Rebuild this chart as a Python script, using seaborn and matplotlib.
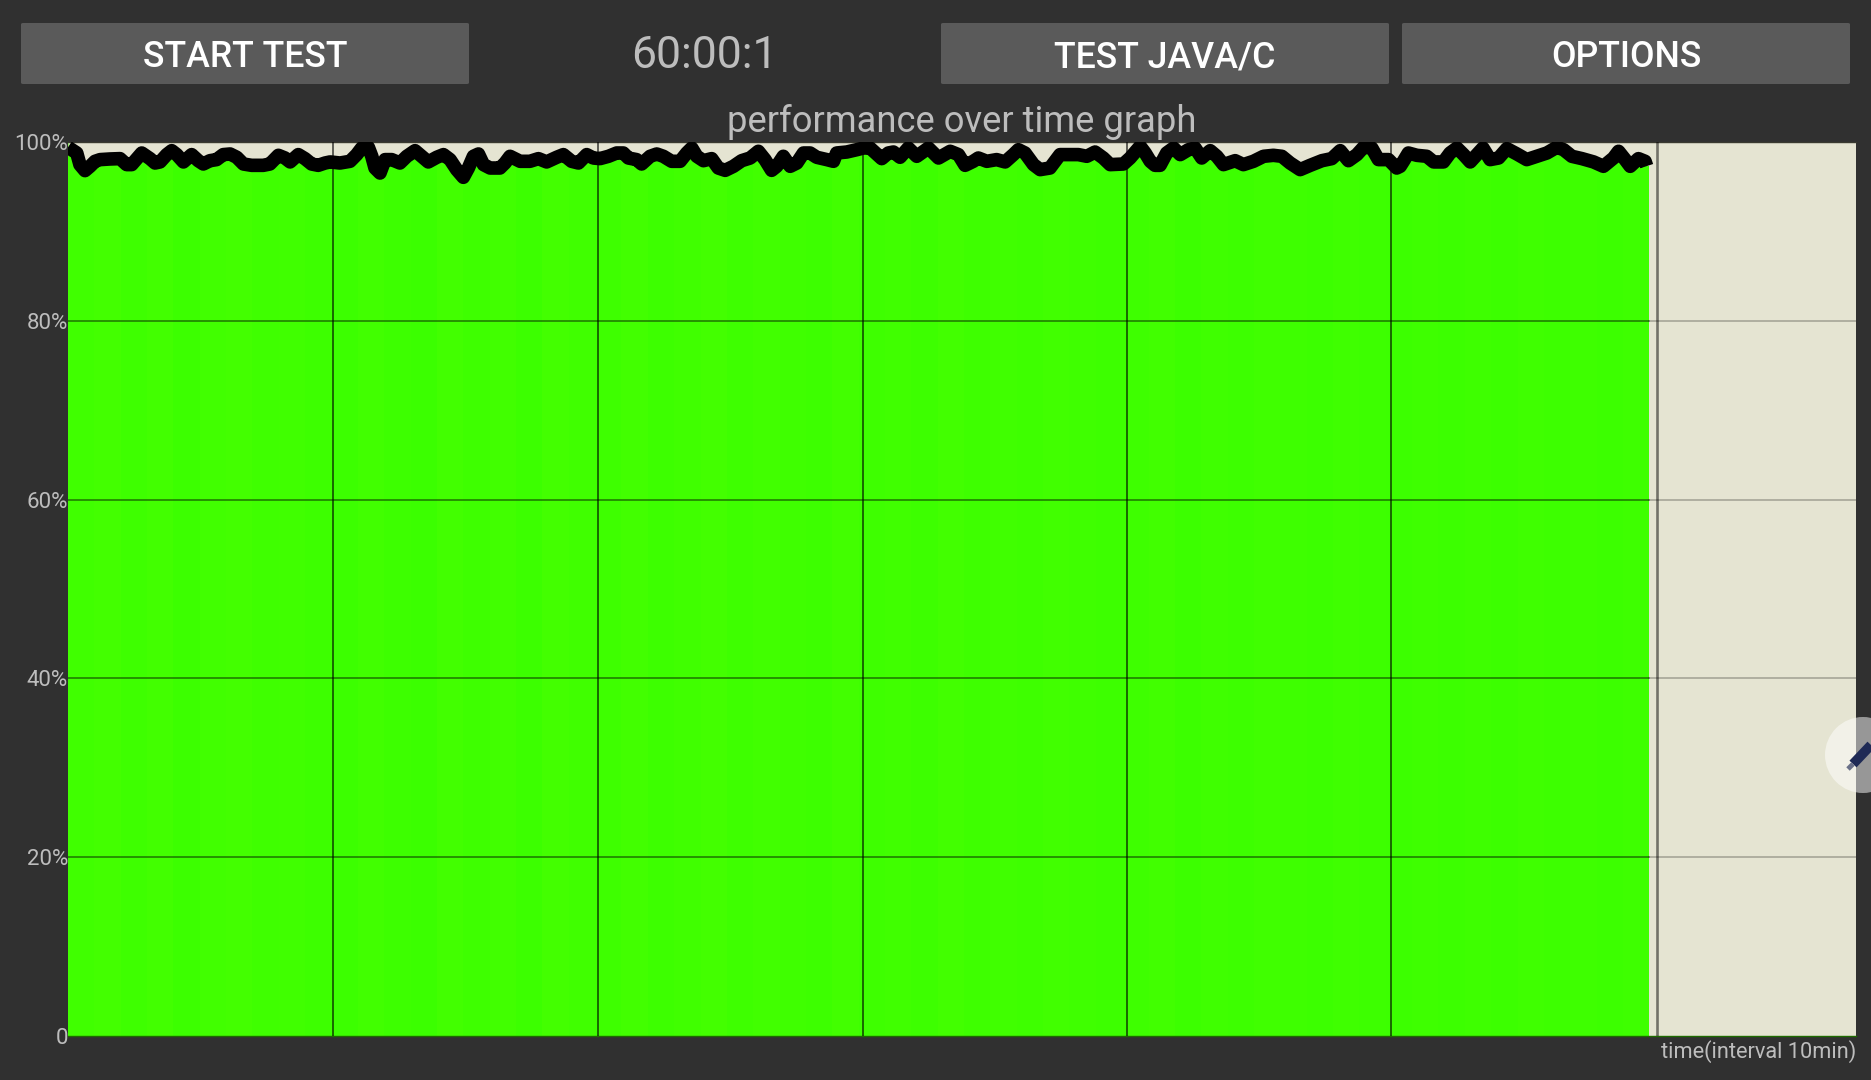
import numpy as np
import pandas as pd
import matplotlib
matplotlib.use("Agg")
import matplotlib.pyplot as plt
from matplotlib.patches import FancyBboxPatch, Circle
from matplotlib.lines import Line2D
import seaborn as sns

minutes = [0.00,0.33,0.45,0.64,0.83,1.02,1.21,1.58,1.96,2.21,2.40,2.78,3.09,3.28,3.47,3.72,3.91,4.10,4.35,4.66,4.91,5.10,5.35,5.60,5.85,6.11,6.36,6.61,6.92,7.36,7.61,7.93,8.18,8.37,8.68,8.93,9.18,9.43,9.69,
 9.88,10.25,10.63,10.88,11.07,11.32,11.45,11.57,11.76,11.95,12.20,12.51,12.77,13.08,13.33,13.58,13.90,14.15,14.40,14.65,14.90,15.09,15.28,15.47,15.66,15.91,16.28,16.47,16.66,17.04,17.41,17.73,18.04,18.42,18.67,18.98,19.24,19.55,19.80,
 20.05,20.37,20.68,20.93,21.12,21.43,21.62,21.94,22.19,22.44,22.75,23.07,23.32,23.51,23.70,23.95,24.26,24.51,24.77,25.08,25.39,25.71,26.02,26.27,26.52,26.71,26.96,27.22,27.47,27.72,27.97,28.22,28.60,28.85,28.97,29.35,29.73,29.98,
 30.23,30.48,30.67,30.92,31.11,31.36,31.67,31.99,32.43,32.81,33.25,33.56,33.81,34.12,34.31,34.63,35.00,35.32,35.63,35.82,36.07,36.39,36.64,37.01,37.39,37.77,38.08,38.40,38.71,39.02,39.28,39.78,40.03,
 40.41,40.60,40.79,40.97,41.16,41.41,41.67,41.92,42.23,42.48,42.73,43.05,43.30,43.55,43.99,44.30,44.68,45.06,45.43,45.75,46.06,46.44,46.82,47.26,47.63,47.95,48.26,48.58,48.83,49.14,49.39,49.77,50.08,
 50.21,50.33,50.52,50.84,51.21,51.47,51.84,52.09,52.35,52.60,52.85,53.10,53.33,53.60,53.92,54.23,54.61,54.98,55.36,55.74,56.11,56.37,56.68,57.06,57.50,57.87,58.25,58.44,58.69,58.88,59.19,59.44,59.50]

performance = [99.41,98.77,97.47,96.80,97.28,97.84,98.03,98.10,98.14,97.47,97.47,98.77,98.14,97.65,97.77,98.59,99.03,98.59,97.77,98.59,97.91,97.54,97.91,98.03,98.59,98.66,98.29,97.54,97.39,97.39,97.54,98.51,98.21,97.77,98.59,98.14,97.54,97.39,97.65,
 97.77,97.65,97.84,98.59,99.33,99.41,98.40,97.09,96.53,98.03,98.03,97.65,98.40,99.03,98.40,97.77,98.29,98.59,98.03,96.91,96.05,97.09,98.40,98.66,97.47,97.09,97.09,97.65,98.40,97.84,97.84,98.14,97.77,98.29,98.59,97.84,97.65,98.59,98.21,
 98.14,98.40,98.77,98.77,98.21,98.03,97.54,98.40,98.66,98.40,97.84,97.84,98.77,99.33,98.40,97.91,98.14,97.09,96.83,97.28,97.91,98.21,98.96,98.03,96.83,97.28,98.40,97.28,97.65,98.77,98.77,98.29,98.03,97.84,98.77,98.88,99.14,99.33,
 99.33,98.66,98.14,98.77,98.88,98.29,99.33,98.40,99.33,98.21,98.96,98.59,97.39,97.84,98.21,97.84,98.03,97.77,98.59,99.14,98.77,97.47,96.91,97.09,98.59,98.59,98.59,98.40,98.88,98.21,97.47,97.54,98.21,
 99.52,98.77,97.84,97.39,97.39,98.77,99.33,98.59,99.14,99.33,98.21,99.03,98.40,97.47,97.91,97.47,97.84,98.40,98.51,98.40,97.65,96.91,97.39,97.91,98.14,99.03,97.91,98.59,99.41,99.33,98.03,98.03,97.09,
 97.28,97.84,98.77,98.51,98.40,97.77,97.77,98.77,99.33,98.59,97.77,98.59,99.33,98.03,98.21,99.26,98.66,98.03,98.40,98.77,99.41,99.14,98.40,98.14,97.77,97.28,98.21,98.96,98.03,97.28,98.14,97.84,97.30]

strip_greens = ["#40ff00","#43ff00","#3eff00","#42ff00","#3cff00","#41ff00","#43ff00","#3fff00","#40ff00","#3dff00",
                "#3cff00","#41ff00","#3dff00","#3bff00","#42ff00","#3eff00","#41ff00","#3cff00","#43ff00","#40ff00",
                "#3eff00","#42ff00","#3dff00","#40ff00","#43ff00","#3eff00","#41ff00","#3fff00","#3dff00","#42ff00",
                "#3eff00","#40ff00","#3dff00","#42ff00","#3eff00","#40ff00","#3eff00","#41ff00","#3fff00","#3dff00",
                "#3eff00","#41ff00","#3cff00","#3fff00","#3dff00","#40ff00","#3eff00","#3cff00","#3fff00","#3dff00",
                "#3cff00","#3eff00","#3cff00","#3eff00","#3cff00","#3fff00","#3dff00","#3eff00","#3cff00","#3eff00"]

y_ticks = [0, 20, 40, 60, 80, 100]
y_labels = ["0", "20%", "40%", "60%", "80%", "100%"]
x_grid = [10.0, 19.98, 29.97, 39.92, 49.87]
x_last = 59.88
green_end = 59.6
axis_end = 67.39

BG = "#303030"
BEIGE = "#e5e4d2"
TEXT = "#bdbdbd"

sns.set_theme(style="white")
plt.rcParams["font.family"] = ["Roboto", "DejaVu Sans"]

W, H = 1871, 1080
fig = plt.figure(figsize=(W / 100, H / 100), dpi=100, facecolor=BG)
ax = fig.add_axes([68 / W, 1 - 1036 / H, (1856 - 68) / W, 894 / H], facecolor=BEIGE)

df = pd.DataFrame({"minute": minutes, "performance": performance})

# green strips, then beige above the curve
edges = np.linspace(0, green_end, len(strip_greens) + 1)
ax.bar(edges[:-1], 100, width=np.diff(edges), align="edge", color=strip_greens, linewidth=0, zorder=1)
ax.fill_between(df["minute"], df["performance"], 100, color=BEIGE, linewidth=0, zorder=2)
ax.fill_between([df["minute"].iloc[-1], green_end], df["performance"].iloc[-1], 100, color=BEIGE, linewidth=0, zorder=2)

for v in x_grid:
    ax.axvline(v, color="black", alpha=0.6, lw=1.4, zorder=3)
ax.axvline(x_last, color="black", alpha=0.5, lw=1.9, zorder=3)
for v in y_ticks[1:-1]:
    ax.plot([0, green_end], [v, v], color="black", alpha=0.5, lw=1.2, zorder=3)
    ax.plot([green_end, axis_end], [v, v], color="black", alpha=0.28, lw=1.2, zorder=3)

sns.lineplot(data=df, x="minute", y="performance", estimator=None, sort=False,
             color="black", lw=9.8, ax=ax, zorder=4, solid_joinstyle="round", solid_capstyle="butt")

ax.set_xlim(0, axis_end)
ax.set_ylim(0, 100)
ax.set_xlabel("")
ax.set_ylabel("")
ax.set_xticks([])
ax.set_yticks(y_ticks)
ax.set_yticklabels(y_labels, color=TEXT, fontsize=16)
ax.tick_params(axis="y", length=0, pad=0)
for name, sp in ax.spines.items():
    sp.set_visible(name in ("top", "bottom"))
    sp.set_color("#3a3a30" if name == "top" else "#1e6a00")
    sp.set_linewidth(1.0)


def fx(px):
    return px / W


def fy(py):
    return 1 - py / H


# buttons
for left, label in [(21, "START TEST"), (941, "TEST JAVA/C"), (1402, "OPTIONS")]:
    fig.add_artist(FancyBboxPatch((left / W, fy(84)), 448 / W, 61 / H,
                                  boxstyle="round,pad=0,rounding_size=0.0012",
                                  transform=fig.transFigure, facecolor="#5a5a5a", edgecolor="none"))
    fig.text(fx(left + 224), fy(57.5), label, color="white", fontsize=25.7, fontweight="medium",
             ha="center", va="center")

fig.text(fx(704), fy(55.5), "60:00:1", color=TEXT, fontsize=32, ha="center", va="center")
fig.text(fx(962), fy(121.5), "performance over time graph", color=TEXT, fontsize=26.2, ha="center", va="center")
fig.text(fx(1856), fy(1052), "time(interval 10min)", color=TEXT, fontsize=15.7, ha="right", va="center")

# floating pencil button
fig.add_artist(Circle((1863, H - 755), 38, transform=None, facecolor="white", alpha=0.5, edgecolor="none"))
fig.add_artist(Line2D([1853, 1871], [H - 764, H - 745], transform=None, color="#1f2a55", lw=7, solid_capstyle="butt"))
fig.add_artist(Line2D([1848, 1853], [H - 769, H - 764], transform=None, color="#6a7088", lw=3.5, solid_capstyle="butt"))

fig.savefig("out.png", dpi=100, facecolor=BG)
